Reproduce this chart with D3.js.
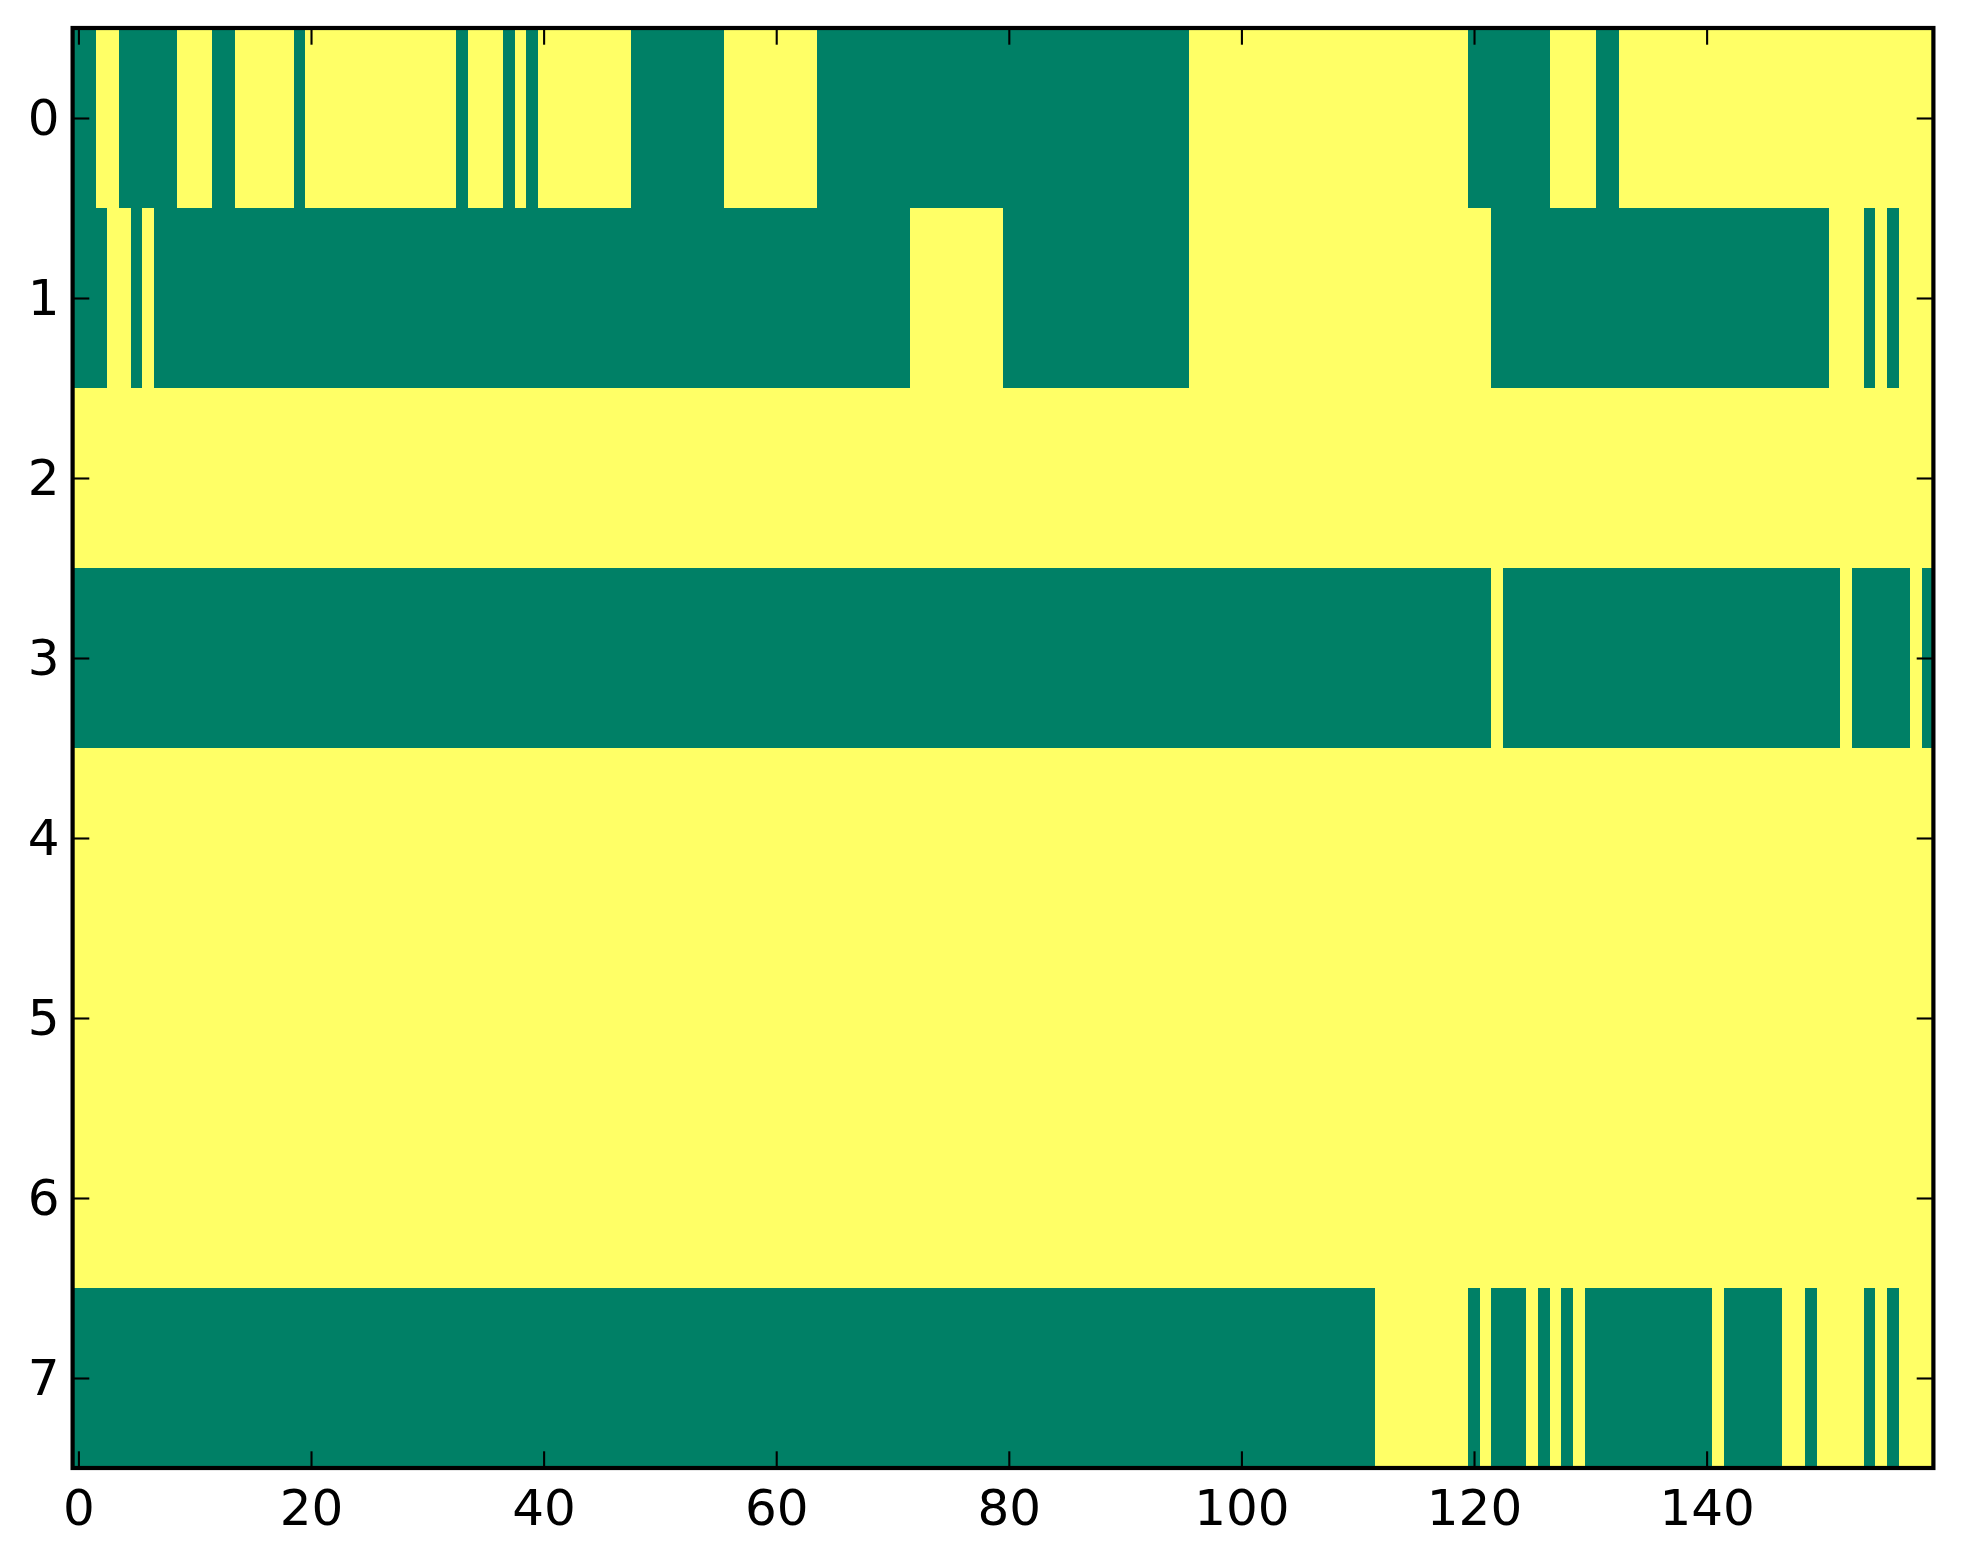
<!DOCTYPE html>
<html>
<head>
<meta charset="utf-8">
<script src="https://cdn.jsdelivr.net/npm/d3@7"></script>
<style>
body{margin:0;background:#fff;}
text{font-family:"DejaVu Sans",sans-serif;}
</style>
</head>
<body>
<div id="chart"></div>
<script>
// 0 = low (green), 1 = high (yellow), 160 columns per row
var row0=[0,0,1,1,0,0,0,0,0,1, 1,1,0,0,1,1,1,1,1,0, 1,1,1,1,1,1,1,1,1,1, 1,1,1,0,1,1,1,0,1,0, 1,1,1,1,1,1,1,1,0,0, 0,0,0,0,0,0,1,1,1,1, 1,1,1,1,0,0,0,0,0,0, 0,0,0,0,0,0,0,0,0,0, 0,0,0,0,0,0,0,0,0,0, 0,0,0,0,0,0,1,1,1,1, 1,1,1,1,1,1,1,1,1,1, 1,1,1,1,1,1,1,1,1,1, 0,0,0,0,0,0,0,1,1,1, 1,0,0,1,1,1,1,1,1,1, 1,1,1,1,1,1,1,1,1,1, 1,1,1,1,1,1,1,1,1,1];
var row1=[0,0,0,1,1,0,1,0,0,0, 0,0,0,0,0,0,0,0,0,0, 0,0,0,0,0,0,0,0,0,0, 0,0,0,0,0,0,0,0,0,0, 0,0,0,0,0,0,0,0,0,0, 0,0,0,0,0,0,0,0,0,0, 0,0,0,0,0,0,0,0,0,0, 0,0,1,1,1,1,1,1,1,1, 0,0,0,0,0,0,0,0,0,0, 0,0,0,0,0,0,1,1,1,1, 1,1,1,1,1,1,1,1,1,1, 1,1,1,1,1,1,1,1,1,1, 1,1,0,0,0,0,0,0,0,0, 0,0,0,0,0,0,0,0,0,0, 0,0,0,0,0,0,0,0,0,0, 0,1,1,1,0,1,0,1,1,1];
var row2=[1,1,1,1,1,1,1,1,1,1, 1,1,1,1,1,1,1,1,1,1, 1,1,1,1,1,1,1,1,1,1, 1,1,1,1,1,1,1,1,1,1, 1,1,1,1,1,1,1,1,1,1, 1,1,1,1,1,1,1,1,1,1, 1,1,1,1,1,1,1,1,1,1, 1,1,1,1,1,1,1,1,1,1, 1,1,1,1,1,1,1,1,1,1, 1,1,1,1,1,1,1,1,1,1, 1,1,1,1,1,1,1,1,1,1, 1,1,1,1,1,1,1,1,1,1, 1,1,1,1,1,1,1,1,1,1, 1,1,1,1,1,1,1,1,1,1, 1,1,1,1,1,1,1,1,1,1, 1,1,1,1,1,1,1,1,1,1];
var row3=[0,0,0,0,0,0,0,0,0,0, 0,0,0,0,0,0,0,0,0,0, 0,0,0,0,0,0,0,0,0,0, 0,0,0,0,0,0,0,0,0,0, 0,0,0,0,0,0,0,0,0,0, 0,0,0,0,0,0,0,0,0,0, 0,0,0,0,0,0,0,0,0,0, 0,0,0,0,0,0,0,0,0,0, 0,0,0,0,0,0,0,0,0,0, 0,0,0,0,0,0,0,0,0,0, 0,0,0,0,0,0,0,0,0,0, 0,0,0,0,0,0,0,0,0,0, 0,0,1,0,0,0,0,0,0,0, 0,0,0,0,0,0,0,0,0,0, 0,0,0,0,0,0,0,0,0,0, 0,0,1,0,0,0,0,0,1,0];
var row4=[1,1,1,1,1,1,1,1,1,1, 1,1,1,1,1,1,1,1,1,1, 1,1,1,1,1,1,1,1,1,1, 1,1,1,1,1,1,1,1,1,1, 1,1,1,1,1,1,1,1,1,1, 1,1,1,1,1,1,1,1,1,1, 1,1,1,1,1,1,1,1,1,1, 1,1,1,1,1,1,1,1,1,1, 1,1,1,1,1,1,1,1,1,1, 1,1,1,1,1,1,1,1,1,1, 1,1,1,1,1,1,1,1,1,1, 1,1,1,1,1,1,1,1,1,1, 1,1,1,1,1,1,1,1,1,1, 1,1,1,1,1,1,1,1,1,1, 1,1,1,1,1,1,1,1,1,1, 1,1,1,1,1,1,1,1,1,1];
var row5=[1,1,1,1,1,1,1,1,1,1, 1,1,1,1,1,1,1,1,1,1, 1,1,1,1,1,1,1,1,1,1, 1,1,1,1,1,1,1,1,1,1, 1,1,1,1,1,1,1,1,1,1, 1,1,1,1,1,1,1,1,1,1, 1,1,1,1,1,1,1,1,1,1, 1,1,1,1,1,1,1,1,1,1, 1,1,1,1,1,1,1,1,1,1, 1,1,1,1,1,1,1,1,1,1, 1,1,1,1,1,1,1,1,1,1, 1,1,1,1,1,1,1,1,1,1, 1,1,1,1,1,1,1,1,1,1, 1,1,1,1,1,1,1,1,1,1, 1,1,1,1,1,1,1,1,1,1, 1,1,1,1,1,1,1,1,1,1];
var row6=[1,1,1,1,1,1,1,1,1,1, 1,1,1,1,1,1,1,1,1,1, 1,1,1,1,1,1,1,1,1,1, 1,1,1,1,1,1,1,1,1,1, 1,1,1,1,1,1,1,1,1,1, 1,1,1,1,1,1,1,1,1,1, 1,1,1,1,1,1,1,1,1,1, 1,1,1,1,1,1,1,1,1,1, 1,1,1,1,1,1,1,1,1,1, 1,1,1,1,1,1,1,1,1,1, 1,1,1,1,1,1,1,1,1,1, 1,1,1,1,1,1,1,1,1,1, 1,1,1,1,1,1,1,1,1,1, 1,1,1,1,1,1,1,1,1,1, 1,1,1,1,1,1,1,1,1,1, 1,1,1,1,1,1,1,1,1,1];
var row7=[0,0,0,0,0,0,0,0,0,0, 0,0,0,0,0,0,0,0,0,0, 0,0,0,0,0,0,0,0,0,0, 0,0,0,0,0,0,0,0,0,0, 0,0,0,0,0,0,0,0,0,0, 0,0,0,0,0,0,0,0,0,0, 0,0,0,0,0,0,0,0,0,0, 0,0,0,0,0,0,0,0,0,0, 0,0,0,0,0,0,0,0,0,0, 0,0,0,0,0,0,0,0,0,0, 0,0,0,0,0,0,0,0,0,0, 0,0,1,1,1,1,1,1,1,1, 0,1,0,0,0,1,0,1,0,1, 0,0,0,0,0,0,0,0,0,0, 0,1,0,0,0,0,0,1,1,0, 1,1,1,1,0,1,0,1,1,1];

var rowLabels=[0,1,2,3,4,5,6,7];
var xTicks=[0,20,40,60,80,100,120,140];

var rows=[row0,row1,row2,row3,row4,row5,row6,row7];

var W=1963,H=1564,
    plotL=72.6,plotR=1933.4,plotT=28,plotB=1468,
    tickLen=16.7;

var svg=d3.select("#chart")
.append("svg")
.attr("width",W)
.attr("height",H);

var x=d3.scaleLinear().domain([-0.5,row0.length-0.5]).range([plotL,plotR]);
var y=d3.scaleLinear().domain([-0.5,rows.length-0.5]).range([plotT,plotB]);
var color=d3.scaleOrdinal().domain([0,1]).range(["#008066","#ffff66"]);

// cells
var cells=[];
rows.forEach(function(r,ri){
  r.forEach(function(v,ci){ cells.push({r:ri,c:ci,v:v}); });
});

svg.append("g")
.attr("shape-rendering","crispEdges")
.selectAll("rect")
.data(cells)
.enter()
.append("rect")
.attr("x",function(d){return x(d.c-0.5);})
.attr("y",function(d){return y(d.r-0.5);})
.attr("width",function(d){return x(d.c+0.5)-x(d.c-0.5)+0.5;})
.attr("height",function(d){return y(d.r+0.5)-y(d.r-0.5)+0.5;})
.attr("fill",function(d){return color(d.v);});

// axes, ticks pointing inward on all four sides
svg.append("g")
.attr("transform","translate(0,"+plotB+")")
.call(d3.axisBottom(x).tickValues(xTicks).tickSizeInner(-tickLen).tickSizeOuter(0).tickPadding(21));

svg.append("g")
.attr("transform","translate(0,"+plotT+")")
.call(d3.axisTop(x).tickValues(xTicks).tickSizeInner(-tickLen).tickSizeOuter(0).tickFormat(""));

svg.append("g")
.attr("transform","translate("+plotL+",0)")
.call(d3.axisLeft(y).tickValues(rowLabels).tickSizeInner(-tickLen).tickSizeOuter(0).tickPadding(13));

svg.append("g")
.attr("transform","translate("+plotR+",0)")
.call(d3.axisRight(y).tickValues(rowLabels).tickSizeInner(-tickLen).tickSizeOuter(0).tickFormat(""));

svg.selectAll(".domain").remove();
svg.selectAll(".tick line")
.attr("stroke","#000")
.attr("stroke-width",2.1);
svg.selectAll(".tick text")
.attr("fill","#000")
.style("font-family","'DejaVu Sans', sans-serif")
.style("font-size","50px");

// frame
svg.append("rect")
.attr("x",plotL)
.attr("y",plotT)
.attr("width",plotR-plotL)
.attr("height",plotB-plotT)
.attr("fill","none")
.attr("stroke","#000")
.attr("stroke-width",4.2);
</script>
</body>
</html>
